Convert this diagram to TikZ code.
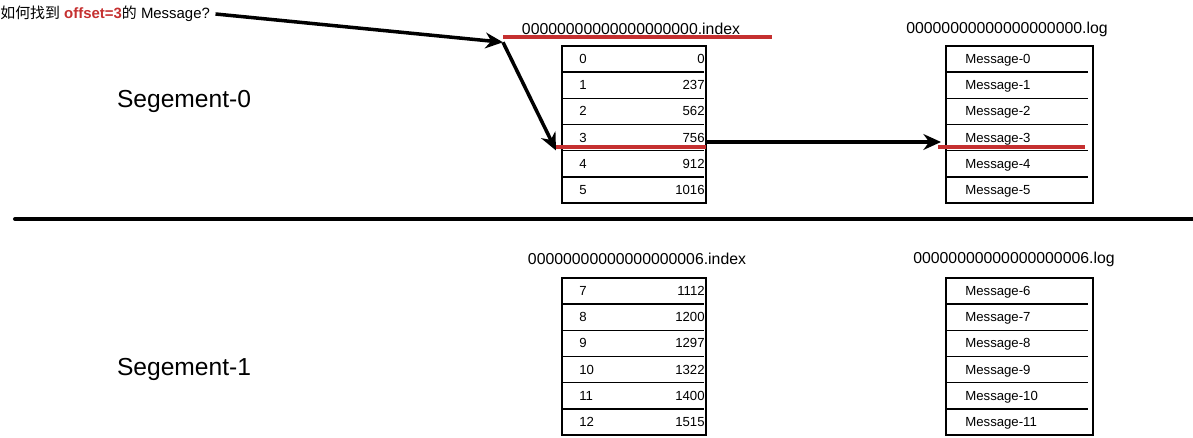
\documentclass[tikz,border=0pt]{standalone}
\usepackage{fontspec}
\setmainfont{Liberation Sans}
\newfontfamily\cjk{Noto Sans CJK SC}
\usetikzlibrary{arrows.meta,positioning}
\definecolor{hitred}{RGB}{197,48,48}

\tikzset{
  seglabel/.style={font=\fontsize{14}{16}\selectfont},
  filelabel/.style={font=\fontsize{9}{11}\selectfont},
  cell/.style={font=\fontsize{7.5}{9}\selectfont, inner sep=0pt},
  tablebox/.style={line width=1.2pt},
  rowline/.style={line width=0.8pt},
  hit/.style={draw=hitred, line width=2pt},
  pointer/.style={line width=2pt, -{Stealth[length=10pt,width=9pt]}},
}

\begin{document}
\begin{tikzpicture}[x=0.02cm,y=-0.02cm]
  \useasboundingbox (0,0) rectangle (1193,438);

  % question
  \node[anchor=west, inner sep=0pt, font=\fontsize{8.5}{10}\selectfont] (q) at (0,14)
    {{\cjk 如何找到} {\color{hitred}\bfseries offset=3}{\cjk 的} Message?};

  % segment names and separator
  \node[seglabel] (segA) at (184,101) {Segement-0};
  \node[seglabel] (segB) at (184,369) {Segement-1};
  \coordinate (sepL) at (15,219);
  \coordinate (sepR) at (1193,219);
  \draw[line width=2.3pt, line cap=round] (sepL) -- (sepR);

  % file names
  \node[filelabel] (idxA) at (631,29) {00000000000000000000.index};
  \node[filelabel] (logA) at (1007,29) {00000000000000000000.log};
  \node[filelabel] (idxB) at (637,259) {00000000000000000006.index};
  \node[filelabel] (logB) at (1014,259) {00000000000000000006.log};

  % table corners
  \coordinate (iA) at (562,46);
  \coordinate (lA) at (946,46);
  \coordinate (iB) at (562,278);
  \coordinate (lB) at (946,278);
  \draw[tablebox] (iA) rectangle +(144,157);
  \draw[tablebox] (lA) rectangle +(147,157);
  \draw[tablebox] (iB) rectangle +(144,157);
  \draw[tablebox] (lB) rectangle +(147,157);
  \foreach \r in {1,...,5} {
    \draw[rowline] (563,{46+26.17*\r}) -- (704,{46+26.17*\r});
    \draw[rowline] (947,{46+26.17*\r}) -- (1088,{46+26.17*\r});
    \draw[rowline] (563,{278+26.17*\r}) -- (704,{278+26.17*\r});
    \draw[rowline] (947,{278+26.17*\r}) -- (1088,{278+26.17*\r});
  }

  % segment 0 rows
  \foreach \k/\v [count=\r from 0] in {0/0,1/237,2/562,3/756,4/912,5/1016} {
    \node[cell, anchor=base west] (iA-k\r) at (579,{63.5+26.17*\r}) {\k};
    \node[cell, anchor=base east] (iA-v\r) at (705,{63.5+26.17*\r}) {\v};
    \node[cell, anchor=base west] (lA-m\r) at (965,{63.5+26.17*\r}) {Message-\r};
  }
  % segment 1 rows
  \foreach \k/\v [count=\r from 0] in {7/1112,8/1200,9/1297,10/1322,11/1400,12/1515} {
    \pgfmathtruncatemacro\m{\r+6}
    \node[cell, anchor=base west] (iB-k\r) at (579,{295.5+26.17*\r}) {\k};
    \node[cell, anchor=base east] (iB-v\r) at (705,{295.5+26.17*\r}) {\v};
    \node[cell, anchor=base west] (lB-m\r) at (965,{295.5+26.17*\r}) {Message-\m};
  }

  % lookup path
  \coordinate (ulA) at (503,37);
  \coordinate (ulB) at (772,37);
  \coordinate (hitL) at (556,147);
  \coordinate (hitR) at (706,147);
  \coordinate (msgL) at (938,147);
  \coordinate (msgR) at (1085,147);
  \draw[hit] (ulA) -- (ulB);
  \draw[hit] (hitL) -- (hitR);
  \draw[hit] (msgL) -- (msgR);
  \coordinate (outA) at (707,142);
  \coordinate (inA) at (941,142);
  \draw[pointer] ([xshift=3pt]q.east) -- ([yshift=-3]ulA);
  \draw[pointer] ([yshift=-3]ulA) -- ([yshift=-2]hitL);
  \draw[pointer] (outA) -- (inA);
\end{tikzpicture}
\end{document}
